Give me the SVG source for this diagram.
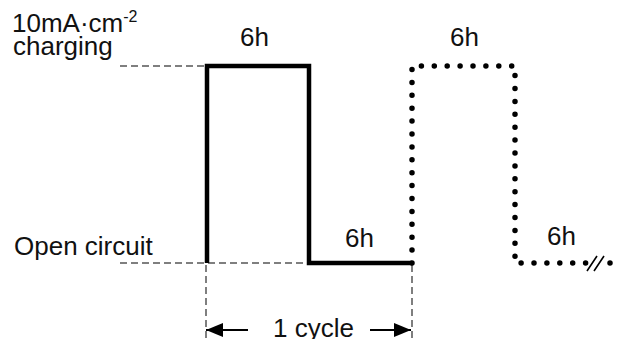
<svg xmlns="http://www.w3.org/2000/svg" width="624" height="339" viewBox="0 0 624 339">
<style>
text{font-family:"Liberation Sans",Arial,sans-serif;font-size:26px;fill:#111}
.dash{stroke:#555;stroke-width:1.5;stroke-dasharray:7 4;fill:none}
.solid{stroke:#000;stroke-width:4.5;fill:none;stroke-linejoin:miter}
.dot{stroke:#000;stroke-width:5.5;fill:none;stroke-linecap:round;stroke-dasharray:0 12.9}
.arr{stroke:#000;stroke-width:2;fill:none}
</style>
<defs>
<marker id="ah" viewBox="0 0 17 14" refX="17" refY="7" markerWidth="17" markerHeight="14" markerUnits="userSpaceOnUse" orient="auto">
<path d="M0,0 L17,7 L0,14 Z" fill="#000"/>
</marker>
</defs>
<rect width="624" height="339" fill="#fff"/>
<g id="labels">
<text x="12" y="32">10mA·cm<tspan font-size="16" dy="-10">-2</tspan></text>
<text x="13" y="55">charging</text>
<text x="14" y="255">Open circuit</text>
<text x="240" y="46">6h</text>
<text x="450" y="46">6h</text>
<text x="345" y="247">6h</text>
<text x="547" y="245">6h</text>
</g>
<g id="guides">
<path class="dash" d="M120,66 H204"/>
<path class="dash" d="M120,263 H308"/>
<path class="dash" d="M206,265 V339"/>
<path class="dash" d="M412,265 V339"/>
</g>
<g id="solid-cycle">
<path class="solid" d="M207,263 V66 H309 V263 H412"/>
</g>
<g id="dotted-cycle">
<path class="dot" d="M412,263 V66 H515 V263 H590"/>
<circle cx="610" cy="263" r="2.75" fill="#000"/>
<path d="M587,271 L597,256 M594,271 L604,256" stroke="#000" stroke-width="1.6"/>
</g>
<g id="connectors">
<path class="arr" d="M248,330 H206" marker-end="url(#ah)"/>
<path class="arr" d="M370,330 H411" marker-end="url(#ah)"/>
</g>
<g id="cycle-label">
<text x="273" y="337">1 cycle</text>
</g>
</svg>
